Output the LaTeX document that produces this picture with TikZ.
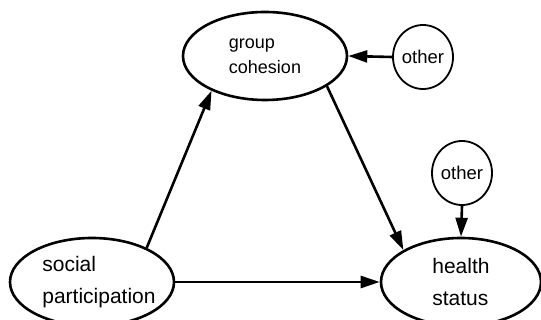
\documentclass[tikz,border=0pt]{standalone}
\usepackage{fontspec}
\setmainfont{Liberation Sans}
\usetikzlibrary{shapes.geometric,arrows.meta}
\begin{document}
\begin{tikzpicture}[x=1pt,y=-1pt,
  bigell/.style={ellipse,draw,line width=2.6pt,minimum width=164pt,minimum height=88pt,inner sep=0pt,align=left},
  lbl/.style={inner sep=0pt,align=left},
  txtbig/.style={font=\fontsize{21}{32}\selectfont},
  txtsmall/.style={font=\fontsize{18}{25}\selectfont},
  othercirc/.style={ellipse,draw,line width=1.8pt,minimum width=60pt,minimum height=64pt,inner sep=0pt,font=\fontsize{18.5}{20}\selectfont},
  arr/.style={line width=2.6pt,-{Triangle[length=19pt,width=12pt]}}]
\useasboundingbox (0,0) rectangle (541,320);
\node[bigell,txtsmall] (gc) at (265,56) {group\\cohesion};
\node[othercirc] (o1) at (423,57) {other};
\node[bigell] (sp) at (92,282) {};
\node[lbl,txtbig] (spt) at (99,282) {social\\participation};
\node[bigell,txtbig,minimum width=160pt] (hs) at (461,282) {health\\status};
\node[othercirc] (o2) at (462,173) {other};
\draw[arr] (o1.west) -- (gc.east);
\draw[arr] (o2.south) -- (hs.north);
\draw[arr] (sp.32) -- (gc.213);
\draw[arr] (gc.-26) -- (hs.151);
\draw[arr] (sp.east) -- (hs.west);
\end{tikzpicture}
\end{document}
